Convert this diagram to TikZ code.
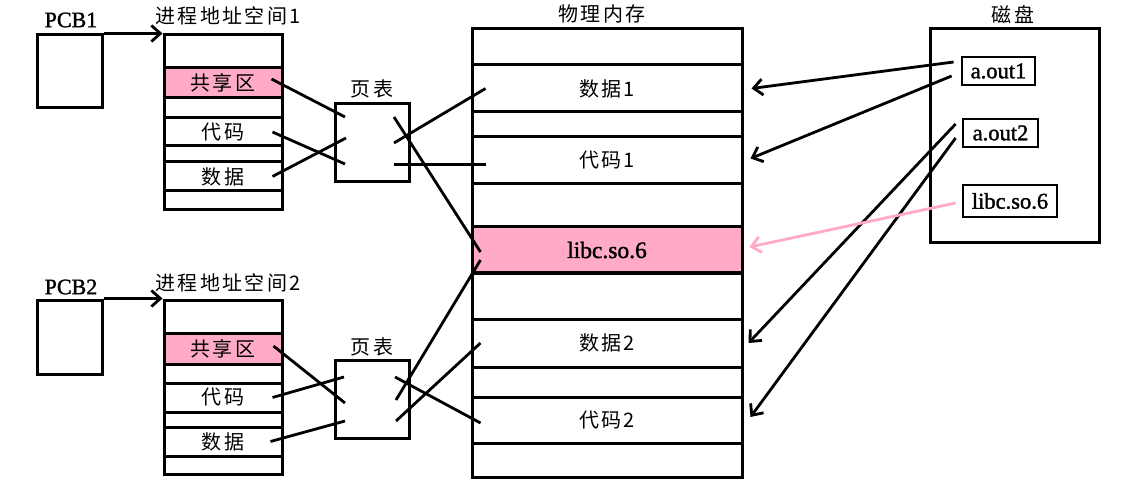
\documentclass[tikz,border=0pt]{standalone}
\usepackage{fontspec}
\setmainfont{Liberation Serif}
\newfontfamily\semib[FakeBold=1.5]{Liberation Serif}
\newfontfamily\cjk[LetterSpace=12]{Noto Sans CJK SC}
\usetikzlibrary{arrows.meta}
\definecolor{shpink}{RGB}{255,170,200}
\definecolor{arrpink}{RGB}{255,170,200}
\tikzset{
  cell/.style={draw, line width=3pt, inner sep=0pt, fill=white},
  pinkcell/.style={cell, fill=shpink},
  pcell/.style={cell, minimum width=118pt},
  mcell/.style={cell, minimum width=270pt},
  ctext/.style={font=\cjk\fontsize{20}{22}\selectfont},
  ltext/.style={font=\semib\fontsize{23.5}{25}\selectfont},
  pcbtext/.style={font=\semib\fontsize{22}{23}\selectfont},
  diskfile/.style={draw, line width=2.8pt, inner sep=0pt, fill=white, font=\semib\fontsize{22.5}{24}\selectfont},
  link/.style={line width=2.8pt},
  arr/.style={line width=2.8pt, -{Straight Barb[length=9pt,width=16pt,line width=2.8pt]}},
  parr/.style={arr, draw=arrpink}
}
\begin{document}
\begin{tikzpicture}[x=1pt,y=-1pt]
\useasboundingbox (0,0) rectangle (1121,486);

% PCBs
\node[cell, minimum width=65pt, minimum height=73pt] (pcb1) at (69.5,71.5) {};
\node[pcbtext] (pcb1l) at (71,20) {PCB1};
\node[cell, minimum width=65pt, minimum height=74pt] (pcb2) at (69.5,337) {};
\node[pcbtext] (pcb2l) at (71,287) {PCB2};

% Process address space 1
\node[ctext] (as1l) at (228,16) {进程地址空间1};
\node[pcell, minimum height=33pt] (p1r0) at (223,51.5) {};
\node[pcell, pinkcell, minimum height=30pt, ctext] (p1r1) at (223,83) {共享区};
\node[pcell, minimum height=20pt] (p1r2) at (223,108) {};
\node[pcell, minimum height=28pt, ctext] (p1r3) at (223,132) {代码};
\node[pcell, minimum height=16pt] (p1r4) at (223,154) {};
\node[pcell, minimum height=29pt, ctext] (p1r5) at (223,176.5) {数据};
\node[pcell, minimum height=19pt] (p1r6) at (223,200.5) {};

% Process address space 2
\node[ctext] (as2l) at (228,283) {进程地址空间2};
\node[pcell, minimum height=33pt] (p2r0) at (223,316.5) {};
\node[pcell, pinkcell, minimum height=31pt, ctext] (p2r1) at (223,348.5) {共享区};
\node[pcell, minimum height=19pt] (p2r2) at (223,373.5) {};
\node[pcell, minimum height=29pt, ctext] (p2r3) at (223,397.5) {代码};
\node[pcell, minimum height=15pt] (p2r4) at (223,419.5) {};
\node[pcell, minimum height=29pt, ctext] (p2r5) at (223,441.5) {数据};
\node[pcell, minimum height=18pt] (p2r6) at (223,465) {};

% arrows PCB -> address space
\draw[arr] (pcb1.north east) -- (p1r0.north west);
\draw[arr] (pcb2.north east) -- (p2r0.north west);

% page tables
\node[cell, minimum width=74pt, minimum height=78pt] (pt1) at (372,143) {};
\node[ctext] (pt1l) at (372,89) {页表};
\node[cell, minimum width=74pt, minimum height=78pt] (pt2) at (372,399) {};
\node[ctext] (pt2l) at (372,347) {页表};

% physical memory
\node[ctext] (meml) at (602,14) {物理内存};
\node[mcell, minimum height=36pt] (m0) at (607,47) {};
\node[mcell, minimum height=47pt, ctext] (m1) at (607,88.5) {数据1};
\node[mcell, minimum height=25pt] (m2) at (607,124.5) {};
\node[mcell, minimum height=47pt, ctext] (m3) at (607,160.5) {代码1};
\node[mcell, minimum height=43pt] (m4) at (607,205.5) {};
\node[mcell, pinkcell, minimum height=46pt, ltext] (m5) at (607,250) {libc.so.6};
\node[mcell, minimum height=46pt] (m6) at (607,296) {};
\node[mcell, minimum height=48pt, ctext] (m7) at (607,343) {数据2};
\node[mcell, minimum height=30pt] (m8) at (607,382) {};
\node[mcell, minimum height=46pt, ctext] (m9) at (607,420) {代码2};
\node[mcell, minimum height=34pt] (m10) at (607,460) {};

% disk
\node[ctext] (diskl) at (1013,15) {磁盘};
\node[cell, minimum width=169pt, minimum height=214pt] (disk) at (1014.5,136) {};
\node[diskfile, minimum width=73pt, minimum height=28pt] (aout1) at (998.5,71) {a.out1};
\node[diskfile, minimum width=75pt, minimum height=28pt] (aout2) at (1000.5,133) {a.out2};
\node[diskfile, minimum width=94pt, minimum height=32pt] (libcd) at (1010,201) {libc.so.6};

% process 1 -> page table 1
\draw[link] ([shift={(-12,-4)}]p1r1.east) -- ([shift={(-27,-26)}]pt1.center);
\draw[link] ([shift={(-11,0)}]p1r3.east) -- ([shift={(-27,21)}]pt1.center);
\draw[link] ([shift={(-11,0)}]p1r5.east) -- ([shift={(-26,-5)}]pt1.center);
% page table 1 -> memory
\draw[link] ([shift={(22,-26)}]pt1.center) -- ([shift={(10,2)}]m5.west);
\draw[link] ([shift={(22,0)}]pt1.center) -- ([shift={(15,0)}]m1.west);
\draw[link] ([shift={(22,21.5)}]pt1.center) -- ([shift={(15,4)}]m3.west);

% process 2 -> page table 2
\draw[link] ([shift={(-10,-2.5)}]p2r1.east) -- ([shift={(-27,4)}]pt2.center);
\draw[link] ([shift={(-11,0)}]p2r3.east) -- ([shift={(-28,-22)}]pt2.center);
\draw[link] ([shift={(-13,0)}]p2r5.east) -- ([shift={(-27,22)}]pt2.center);
% page table 2 -> memory
\draw[link] ([shift={(24,1)}]pt2.center) -- ([shift={(10,10)}]m5.west);
\draw[link] ([shift={(24,22)}]pt2.center) -- ([shift={(10,0)}]m7.west);
\draw[link] ([shift={(23,-22)}]pt2.center) -- ([shift={(10,3)}]m9.west);

% disk -> memory
\draw[arr] ([shift={(-7,-9)}]aout1.west) -- ([shift={(8,0)}]m1.east);
\draw[arr] ([shift={(-9,5)}]aout1.west) -- ([shift={(7,-2)}]m3.east);
\draw[arr] ([shift={(-6,-9)}]aout2.west) -- ([shift={(5,0)}]m7.east);
\draw[arr] ([shift={(-6,5)}]aout2.west) -- ([shift={(7,-3)}]m9.east);
\draw[parr] ([shift={(-6,2)}]libcd.west) -- ([shift={(6,-3)}]m5.east);
\end{tikzpicture}
\end{document}
